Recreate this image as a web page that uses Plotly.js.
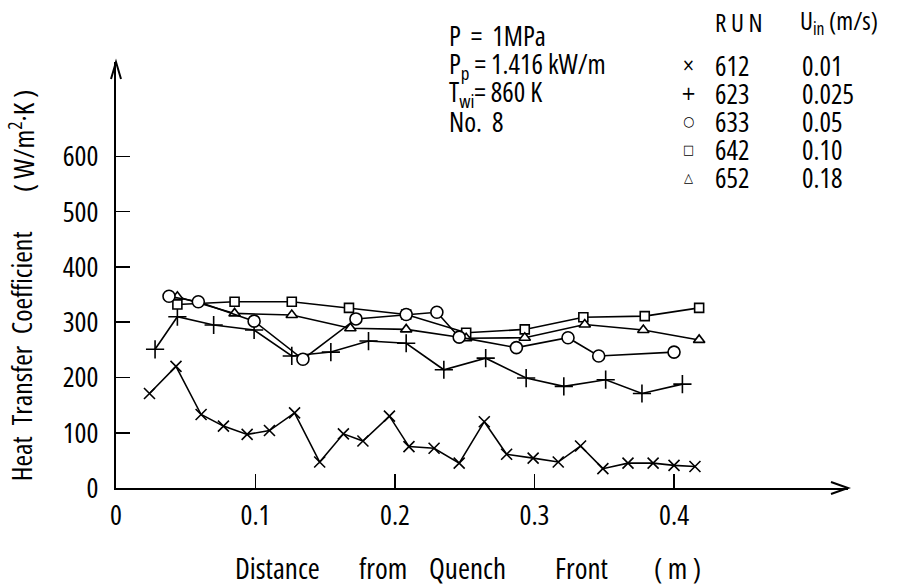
<!DOCTYPE html>
<html>
<head>
<meta charset="utf-8">
<script src="https://cdn.plot.ly/plotly-3.0.1.min.js"></script>
<style>
html,body{margin:0;padding:0;background:#fff;}
text{font-stretch:75%;}
</style>
</head>
<body>
<div id="chart" style="width:922px;height:586px;"></div>
<script>
// ---- data ----
const run612_x = [0.024,0.043,0.061,0.077,0.094,0.110,0.128,0.146,0.163,0.177,0.196,0.210,0.228,0.246,0.264,0.280,0.299,0.317,0.333,0.349,0.367,0.385,0.400,0.415];
const run612_y = [171,220,133,112,97,104,136,47,98,85,130,75,72,45,120,61,54,47,76,35,45,45,41,39];

const run623_x = [0.028,0.044,0.070,0.099,0.126,0.154,0.181,0.208,0.235,0.265,0.294,0.321,0.351,0.377,0.406];
const run623_y = [251,310,295,286,239,246,266,262,214,235,199,184,196,171,188];

const run633_x = [0.038,0.059,0.099,0.134,0.172,0.208,0.230,0.246,0.287,0.324,0.346,0.400];
const run633_y = [347,337,302,233,306,314,318,273,254,272,239,246];

const run642_x = [0.044,0.085,0.126,0.167,0.208,0.251,0.293,0.335,0.379,0.418];
const run642_y = [332,337,337,326,314,281,287,309,311,326];

const run652_x = [0.044,0.085,0.126,0.168,0.208,0.251,0.293,0.336,0.378,0.418];
const run652_y = [346,316,313,289,287,271,272,296,286,268];

const xTickVals = [0, 0.1, 0.2, 0.3, 0.4];
const xTickText = ['0', '0.1', '0.2', '0.3', '0.4'];
const yTickVals = [0, 100, 200, 300, 400, 500, 600];
const yTickText = ['0', '100', '200', '300', '400', '500', '600'];

const runIds = ['612', '623', '633', '642', '652'];
const uinVals = ['0.01', '0.025', '0.05', '0.10', '0.18'];
const runGlyphs = ['×', '+', '○', '□', '△'];

const xRange = [0, 0.5247];
const yRange = [0, 771];

// ---- layout geometry helpers ----
const W = 922, H = 586;
const L = 116, R = 848, T = 62, B = 487.7;
const px = x => (x - L) / (R - L);
const py = y => (B - y) / (B - T);

const FONT = 'Open Sans, Liberation Sans, sans-serif';
const BLACK = '#000';

function series(x, y, symbol, size, fillWhite) {
  return {
    type: 'scatter', mode: 'lines+markers', x: x, y: y,
    line: {color: BLACK, width: 1.6},
    marker: {
      symbol: symbol, size: size,
      color: fillWhite ? '#fff' : BLACK,
      line: {color: BLACK, width: 1.6}
    },
    cliponaxis: false, hoverinfo: 'skip'
  };
}

const data = [
  series(run612_x, run612_y, 'x-thin', 11, false),
  series(run623_x, run623_y, 'cross-thin', 13, false),
  series(run642_x, run642_y, 'square', 9, true),
  series(run652_x, run652_y, 'triangle-up', 10, true),
  series(run633_x, run633_y, 'circle', 12, true)
];

function ann(text, xp, yp, size, opts) {
  return Object.assign({
    text: text, xref: 'paper', yref: 'paper', x: px(xp), y: py(yp),
    showarrow: false, xanchor: 'left', yanchor: 'middle',
    font: {family: FONT, size: size, color: BLACK}
  }, opts || {});
}

const annotations = [];
// y-axis title (rotated), word by word
annotations.push(ann('Heat', 21, 459, 28, {textangle: -90, xanchor: 'center'}));
annotations.push(ann('Transfer', 21, 385, 28, {textangle: -90, xanchor: 'center'}));
annotations.push(ann('Coefficient', 21, 283, 28, {textangle: -90, xanchor: 'center'}));
annotations.push(ann('( W/m<sup>2</sup>·K )', 21, 141, 28, {textangle: -90, xanchor: 'center'}));
// x-axis title, word by word
annotations.push(ann('Distance', 233, 567, 29));
annotations.push(ann('from', 357, 567, 29));
annotations.push(ann('Quench', 427, 567, 29));
annotations.push(ann('Front', 553, 567, 29));
annotations.push(ann('( m )', 652, 567, 29));
// condition block
annotations.push(ann('P \u00A0= \u00A01MPa', 447, 36, 27));
annotations.push(ann('P<sub>p</sub> = 1.416 kW/m', 447, 65, 27));
annotations.push(ann('T<sub>wi</sub>= 860 K', 447, 93, 27));
annotations.push(ann('No. \u00A08', 447, 121, 27));
// legend header
annotations.push(ann('R U N', 713, 22, 25));
annotations.push(ann('U<sub>in</sub> (m/s)', 798, 22, 25));
// legend rows
const rowY = [65, 93, 121, 149, 177];
const glyphSize = [17, 20, 14, 13, 13];
for (let i = 0; i < runIds.length; i++) {
  annotations.push(ann(runGlyphs[i], 688, rowY[i], glyphSize[i],
    {xanchor: 'center', font: {family: 'DejaVu Sans, sans-serif', size: glyphSize[i], color: BLACK}}));
  annotations.push(ann(runIds[i], 713, rowY[i], 27));
  annotations.push(ann(uinVals[i], 800, rowY[i], 27));
}

const shapes = [
  // x-axis arrowhead
  {type: 'path', xref: 'paper', yref: 'paper', xsizemode: 'pixel', ysizemode: 'pixel',
   xanchor: 1, yanchor: 0, path: 'M-17,6 L0,0 L-17,-6', line: {color: BLACK, width: 2}},
  // y-axis arrowhead
  {type: 'path', xref: 'paper', yref: 'paper', xsizemode: 'pixel', ysizemode: 'pixel',
   xanchor: 0, yanchor: 1, path: 'M-5,-17 L0,0 L5,-17', line: {color: BLACK, width: 2}}
];

const axisCommon = {
  showgrid: false, zeroline: false, showline: true, linecolor: BLACK, linewidth: 2,
  ticks: 'inside', ticklen: 14, tickwidth: 1.5, tickcolor: BLACK,
  tickfont: {family: FONT, size: 28, color: BLACK}, fixedrange: true
};

const layout = {
  width: W, height: H,
  margin: {l: L, r: W - R, t: T, b: H - B, pad: 0},
  paper_bgcolor: '#fff', plot_bgcolor: '#fff',
  showlegend: false,
  xaxis: Object.assign({}, axisCommon, {range: xRange, tickmode: 'array', tickvals: xTickVals, ticktext: xTickText, ticklabelstandoff: 1}),
  yaxis: Object.assign({}, axisCommon, {range: yRange, tickmode: 'array', tickvals: yTickVals, ticktext: yTickText, ticklabelstandoff: 10}),
  annotations: annotations,
  shapes: shapes
};

Plotly.newPlot('chart', data, layout, {staticPlot: true, displayModeBar: false});
</script>
</body>
</html>
